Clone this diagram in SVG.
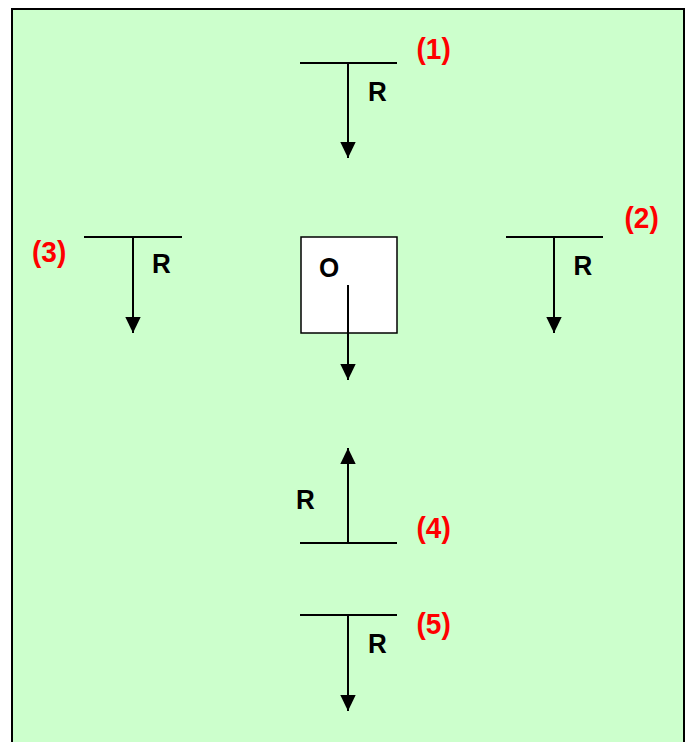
<svg xmlns="http://www.w3.org/2000/svg" width="687" height="742" viewBox="0 0 687 742">
<style>
.ln{stroke:#000;stroke-width:2;fill:none}
.r{font-family:"Liberation Sans",Arial,sans-serif;font-weight:bold;font-size:26px;fill:#000}
.lb{font-family:"Liberation Sans",Arial,sans-serif;font-weight:bold;font-size:28px;fill:#FF0000}
</style>
<defs>
<marker id="ah" viewBox="0 0 16 16" refX="16" refY="8" markerWidth="16" markerHeight="16" markerUnits="userSpaceOnUse" orient="auto">
<path d="M0,0.3 L16,8 L0,15.7 Z" fill="#000"/>
</marker>
</defs>
<rect x="0" y="0" width="687" height="742" fill="#fff"/>
<rect x="12" y="9" width="672" height="745" fill="#CCFFCC" stroke="#000" stroke-width="2"/>
<g id="node-1">
<line class="ln" x1="300" y1="63" x2="397" y2="63"/>
<text class="r" transform="translate(368,101) scale(1,1.08)">R</text>
<text class="lb" transform="translate(416.5,59) scale(1,1.06)">(1)</text>
</g>
<g id="node-2">
<line class="ln" x1="506" y1="237" x2="603" y2="237"/>
<text class="r" transform="translate(573.5,275) scale(1,1.08)">R</text>
<text class="lb" transform="translate(624.5,228) scale(1,1.06)">(2)</text>
</g>
<g id="node-3">
<line class="ln" x1="84" y1="237" x2="182" y2="237"/>
<text class="r" transform="translate(152,273) scale(1,1.08)">R</text>
<text class="lb" transform="translate(32,262) scale(1,1.06)">(3)</text>
</g>
<g id="node-O">
<rect x="301" y="237" width="96" height="96" fill="#fff" stroke="#000" stroke-width="1.5"/>
<text class="r" transform="translate(319,277) scale(1,1.08)">O</text>
</g>
<g id="node-4">
<line class="ln" x1="300" y1="543" x2="397" y2="543"/>
<text class="r" transform="translate(296,509) scale(1,1.08)">R</text>
<text class="lb" transform="translate(416.5,538) scale(1,1.06)">(4)</text>
</g>
<g id="node-5">
<line class="ln" x1="300" y1="615" x2="397" y2="615"/>
<text class="r" transform="translate(368,653) scale(1,1.08)">R</text>
<text class="lb" transform="translate(416.5,634) scale(1,1.06)">(5)</text>
</g>
<g id="connectors">
<line class="ln" x1="348" y1="63" x2="348" y2="158" marker-end="url(#ah)"/>
<line class="ln" x1="554" y1="237" x2="554" y2="333" marker-end="url(#ah)"/>
<line class="ln" x1="133" y1="237" x2="133" y2="333" marker-end="url(#ah)"/>
<line class="ln" x1="348" y1="285" x2="348" y2="380" marker-end="url(#ah)"/>
<line class="ln" x1="348" y1="543" x2="348" y2="448" marker-end="url(#ah)"/>
<line class="ln" x1="348" y1="615" x2="348" y2="711" marker-end="url(#ah)"/>
</g>
</svg>
